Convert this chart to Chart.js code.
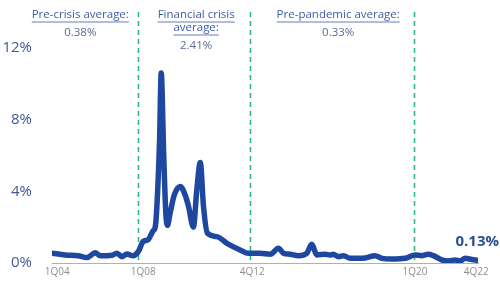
<!DOCTYPE html>
<html>
<head>
<meta charset="utf-8">
<script src="https://cdn.jsdelivr.net/npm/chart.js@4.4.1/dist/chart.umd.min.js"></script>
<style>
  html, body { margin: 0; padding: 0; background: #ffffff; }
  #wrap { width: 500px; height: 284px; position: relative; }
</style>
</head>
<body>
<div id="wrap"><canvas id="c" width="500" height="284"></canvas></div>
<script>
// ---- data (decimal years, % values) ----
const periods = [2004.25, 2004.83, 2005.39, 2005.77, 2006.13, 2006.35, 2006.86, 2007.07, 2007.29, 2007.51, 2007.78,
  2008.0, 2008.22, 2008.43, 2008.65, 2008.74, 2008.81, 2008.93, 2009.0, 2009.11, 2009.2, 2009.27,
  2009.39, 2009.57, 2009.83, 2010.04, 2010.19, 2010.4, 2010.55, 2010.7, 2010.84, 2011.01, 2011.42, 2011.86,
  2012.43, 2012.8, 2013.3, 2013.74, 2014.1, 2014.32, 2014.61, 2014.97, 2015.33, 2015.55, 2015.77,
  2016.13, 2016.35, 2016.49, 2016.71, 2016.93, 2017.22, 2017.58, 2017.87, 2018.3, 2018.6, 2019.03,
  2019.61, 2020.04, 2020.33, 2020.62, 2020.84, 2021.2, 2021.5, 2021.78, 2022.0, 2022.22, 2022.51, 2022.75];
const chargeOffRate = [0.55, 0.45, 0.40, 0.30, 0.57, 0.40, 0.43, 0.55, 0.35, 0.50, 0.40,
  0.63, 1.2, 1.3, 1.8, 2.0, 3.1, 6.9, 10.6, 6.0, 2.8, 2.1,
  2.8, 3.8, 4.26, 3.8, 3.15, 2.0, 4.1, 5.6, 3.15, 1.66, 1.47, 1.1,
  0.73, 0.54, 0.54, 0.49, 0.82, 0.55, 0.49, 0.41, 0.54, 1.04, 0.45,
  0.49, 0.45, 0.49, 0.35, 0.41, 0.26, 0.26, 0.28, 0.41, 0.26, 0.22,
  0.26, 0.45, 0.41, 0.49, 0.41, 0.17, 0.11, 0.17, 0.11, 0.26, 0.20, 0.15];
const xTickLabels = ['1Q04', '1Q08', '4Q12', '1Q20', '4Q22'];
const xTickPositions = [2004.48, 2008.22, 2012.96, 2020.04, 2022.7];
const yTicks = [0, 4, 8, 12];
const periodBreaks = [2008.0, 2012.85, 2020.0];
const periodTitles = [['Pre-crisis average:'], ['Financial crisis', 'average:'], ['Pre-pandemic average:']];
const periodAverages = ['0.38%', '2.41%', '0.33%'];
const periodLabelAt = [2005.48, 2010.52, 2016.70];
const latestLabel = '0.13%';

const FONT = '"Open Sans", "Noto Sans", sans-serif';
const TITLE_COLOR = '#3e5ca6';
const VALUE_COLOR = '#5d6c95';

const overlay = {
  id: 'overlay',
  beforeDatasetsDraw(chart) {
    const { ctx, chartArea, scales: { x } } = chart;
    ctx.save();
    ctx.strokeStyle = '#2db98a';
    ctx.lineWidth = 1.6;
    ctx.setLineDash([5, 4]);
    periodBreaks.forEach(v => {
      const px = Math.round(x.getPixelForValue(v)) + 0.5;
      ctx.beginPath();
      ctx.moveTo(px, chartArea.top);
      ctx.lineTo(px, chartArea.bottom);
      ctx.stroke();
    });
    ctx.restore();
  },
  afterDraw(chart) {
    const { ctx, scales: { x, y } } = chart;
    ctx.save();
    ctx.textAlign = 'center';
    ctx.textBaseline = 'middle';
    periodTitles.forEach((lines, i) => {
      const cx = x.getPixelForValue(periodLabelAt[i]);
      let ty = 15;
      ctx.font = '11.5px ' + FONT;
      ctx.fillStyle = TITLE_COLOR;
      ctx.strokeStyle = TITLE_COLOR;
      ctx.lineWidth = 0.8;
      lines.forEach(t => {
        ctx.fillText(t, cx, ty);
        const w = ctx.measureText(t).width;
        ctx.beginPath();
        ctx.moveTo(cx - w / 2, ty + 7);
        ctx.lineTo(cx + w / 2, ty + 7);
        ctx.stroke();
        ty += 13;
      });
      ctx.fillStyle = VALUE_COLOR;
      ctx.fillText(periodAverages[i], cx, ty + 5);
    });
    const last = periods.length - 1;
    ctx.font = 'bold 15px ' + FONT;
    ctx.fillStyle = '#2d4f96';
    ctx.textAlign = 'right';
    ctx.fillText(latestLabel, 499, y.getPixelForValue(chargeOffRate[last]) - 19);
    ctx.restore();
  }
};

new Chart(document.getElementById('c'), {
  type: 'line',
  data: {
    datasets: [{
      data: periods.map((p, i) => ({ x: p, y: chargeOffRate[i] })),
      borderColor: '#1e47a0',
      borderWidth: 5.5,
      borderCapStyle: 'round',
      borderJoinStyle: 'round',
      pointRadius: 0,
      tension: 0.4,
      cubicInterpolationMode: 'monotone',
      fill: false
    }]
  },
  options: {
    responsive: false,
    animation: false,
    devicePixelRatio: 1,
    layout: { padding: { left: 0, right: 22, top: 12, bottom: 0 } },
    plugins: { legend: { display: false }, tooltip: { enabled: false } },
    scales: {
      x: {
        type: 'linear',
        min: 2004.25,
        max: 2022.78,
        grid: { display: false, drawTicks: false },
        border: { display: true, color: '#b0b0b0', width: 1 },
        afterBuildTicks(scale) { scale.ticks = xTickPositions.map(v => ({ value: v })); },
        afterFit(scale) { scale.height = 21; scale.paddingLeft = 0; scale.paddingRight = 0; },
        ticks: {
          autoSkip: false, maxRotation: 0, padding: 3,
          color: '#8f8f8f',
          font: { family: FONT, size: 10 },
          callback: (v, i) => xTickLabels[i]
        }
      },
      y: {
        min: 0,
        max: 14,
        grid: { display: false, drawTicks: false },
        border: { display: false },
        afterBuildTicks(scale) { scale.ticks = yTicks.map(v => ({ value: v })); },
        afterFit(scale) { scale.width = 52; scale.paddingTop = 0; scale.paddingBottom = 0; },
        ticks: {
          padding: 20,
          color: '#3f5a98',
          font: { family: FONT, size: 15 },
          callback: v => v + '%'
        }
      }
    }
  },
  plugins: [overlay]
});
</script>
</body>
</html>
